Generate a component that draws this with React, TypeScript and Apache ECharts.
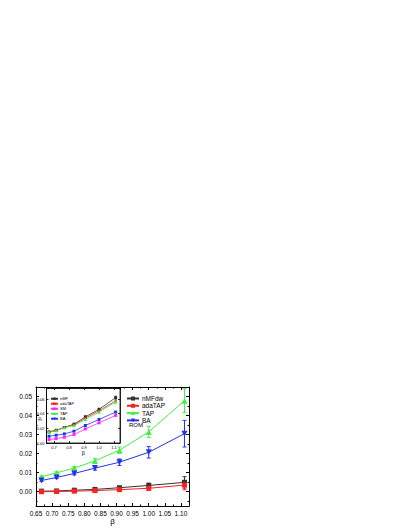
import React, { useEffect, useRef } from "react";
import * as echarts from "echarts";

const betaVals = [0.667, 0.714, 0.769, 0.833, 0.909, 1.0, 1.111];

// main panel
const nmfdw = [0.0003, 0.0004, 0.0008, 0.0012, 0.0021, 0.0033, 0.0049];
const nmfdwErr = [0.0002, 0.0002, 0.0003, 0.0004, 0.0006, 0.0012, 0.003];
const adatap = [0.0, 0.0001, 0.0003, 0.0006, 0.0011, 0.0018, 0.0035];
const adatapErr = [0.0002, 0.0002, 0.0003, 0.0004, 0.0006, 0.001, 0.0025];
const tap = [0.0078, 0.0099, 0.0124, 0.0162, 0.0218, 0.0314, 0.0478];
const tapErr = [0.0005, 0.0006, 0.0008, 0.0012, 0.0017, 0.003, 0.0063];
const ba = [0.0059, 0.0075, 0.0096, 0.0124, 0.0155, 0.0207, 0.0305];
const baErr = [0.0005, 0.0006, 0.0008, 0.0011, 0.0017, 0.003, 0.007];

// inset panel
const insetNmf = [0.0151, 0.0174, 0.0212, 0.0257, 0.0357, 0.0459, 0.0618];
const insetAda = [0.0151, 0.0172, 0.0210, 0.0248, 0.0339, 0.044, 0.0573];
const insetSm = [0.0047, 0.006, 0.0078, 0.0115, 0.0192, 0.0275, 0.0376];
const insetTap = [0.0151, 0.0172, 0.0210, 0.0239, 0.0321, 0.0422, 0.0559];
const insetBa = [0.0092, 0.0106, 0.0124, 0.0161, 0.0239, 0.0321, 0.0422];
const insetErr = [0.0004, 0.0005, 0.0006, 0.0008, 0.001, 0.0013, 0.002];

const mainLegend = ["nMFdw", "adaTAP", "TAP", "BA"];
const insetLegend = ["nMF", "adaTAP", "SM", "TAP", "BA"];

const C_BLACK = "#333333";
const C_RED = "#ff2020";
const C_GREEN = "#44ee44";
const C_BLUE = "#2233ee";
const C_MAG = "#ff22ff";

const pts = (ys: number[]) => betaVals.map((x, i) => [x, ys[i]]);
const errPts = (ys: number[], es: number[]) =>
  betaVals.map((x, i) => [x, ys[i] - es[i], ys[i] + es[i]]);

function errSeries(ys: number[], es: number[], color: string, axis: number, cap: number) {
  return {
    type: "custom",
    xAxisIndex: axis,
    yAxisIndex: axis,
    data: errPts(ys, es),
    encode: { x: 0, y: [1, 2] },
    z: 3,
    silent: true,
    renderItem: (params: any, api: any) => {
      const x = api.value(0);
      const p1 = api.coord([x, api.value(1)]);
      const p2 = api.coord([x, api.value(2)]);
      const st = { stroke: color, lineWidth: 1 };
      return {
        type: "group",
        children: [
          { type: "line", shape: { x1: p1[0], y1: p1[1], x2: p2[0], y2: p2[1] }, style: st },
          { type: "line", shape: { x1: p1[0] - cap, y1: p1[1], x2: p1[0] + cap, y2: p1[1] }, style: st },
          { type: "line", shape: { x1: p2[0] - cap, y1: p2[1], x2: p2[0] + cap, y2: p2[1] }, style: st },
        ],
      };
    },
  };
}

const fmt2 = (step: number) => (v: number) => {
  const k = v / step;
  return Math.abs(Math.round(k) - k) < 1e-6 ? v.toFixed(2) : "";
};
const fmt1 = (step: number) => (v: number) => {
  const k = v / step;
  return Math.abs(Math.round(k) - k) < 1e-6 ? v.toFixed(1) : "";
};

export default function App() {
  const ref = useRef<HTMLDivElement>(null);
  useEffect(() => {
    const chart = echarts.init(ref.current!, null, { renderer: "svg" });
    const font = "Liberation Sans, Arial, sans-serif";
    const mainTick = { show: true, inside: true, length: 3, lineStyle: { color: "#000", width: 1 } };
    const mainMinor = { show: true, splitNumber: 2, length: 1.5, lineStyle: { color: "#000", width: 1 } };
    const inTick = { show: true, inside: true, length: 2, lineStyle: { color: "#000", width: 0.8 } };
    const axisLine = { show: true, onZero: false, lineStyle: { color: "#000", width: 1 } };
    const inLine = { show: true, onZero: false, lineStyle: { color: "#000", width: 0.8 } };

    const lineS = (name: string, ys: number[], color: string, symbol: string, size: number, axis: number) => ({
      type: "line",
      name,
      xAxisIndex: axis,
      yAxisIndex: axis,
      data: pts(ys),
      symbol,
      symbolSize: size,
      showAllSymbol: true,
      lineStyle: { color, width: axis === 0 ? 1 : 0.8 },
      itemStyle: { color },
      z: 4,
    });

    chart.setOption({
      animation: false,
      backgroundColor: "#ffffff",
      textStyle: { fontFamily: font },
      grid: [
        { left: 36, right: 220, top: 387, bottom: 23, show: false },
        { left: 46.5, right: 289, top: 388, bottom: 86, show: true, backgroundColor: "#ffffff", borderColor: "#000", borderWidth: 0.8, z: 5 },
      ],
      xAxis: [
        {
          type: "value", gridIndex: 0, min: 0.65, max: 1.125, splitNumber: 9,
          axisLine, axisTick: mainTick, minorTick: mainMinor, splitLine: { show: false },
          axisLabel: { fontSize: 6.5, color: "#000", margin: 4, formatter: fmt2(0.05), showMaxLabel: false },
          name: "β", nameLocation: "middle", nameGap: 11, nameTextStyle: { fontSize: 8, color: "#000" },
        },
        {
          type: "value", gridIndex: 1, min: 0.65, max: 1.14, splitNumber: 5,
          axisLine: inLine, axisTick: inTick, splitLine: { show: false },
          axisLabel: { fontSize: 4, color: "#000", margin: 2, formatter: fmt1(0.1), showMaxLabel: false, showMinLabel: false },
          name: "β", nameLocation: "middle", nameGap: 7, nameTextStyle: { fontSize: 5.5, color: "#000" }, z: 6,
        },
        {
          type: "value", gridIndex: 0, position: "top", min: 0.65, max: 1.125, splitNumber: 9,
          axisLine, axisTick: mainTick, minorTick: mainMinor, splitLine: { show: false }, axisLabel: { show: false },
        },
        {
          type: "value", gridIndex: 1, position: "top", min: 0.65, max: 1.14, splitNumber: 5,
          axisLine: inLine, axisTick: inTick, splitLine: { show: false }, axisLabel: { show: false }, z: 6,
        },
      ],
      yAxis: [
        {
          type: "value", gridIndex: 0, min: -0.0075, max: 0.055, splitNumber: 5,
          axisLine, axisTick: mainTick, minorTick: mainMinor, splitLine: { show: false },
          axisLabel: { fontSize: 6.5, color: "#000", margin: 4, formatter: fmt2(0.01), showMaxLabel: false, showMinLabel: false },
        },
        {
          type: "value", gridIndex: 1, min: 0, max: 0.075, interval: 0.02,
          axisLine: inLine, axisTick: inTick, splitLine: { show: false },
          axisLabel: { fontSize: 4, color: "#000", margin: 2, formatter: fmt2(0.02), showMaxLabel: false }, z: 6,
        },
        {
          type: "value", gridIndex: 0, position: "right", min: -0.0075, max: 0.055, splitNumber: 5,
          axisLine, axisTick: mainTick, minorTick: mainMinor, splitLine: { show: false }, axisLabel: { show: false },
        },
        {
          type: "value", gridIndex: 1, position: "right", min: 0, max: 0.075, interval: 0.02,
          axisLine: inLine, axisTick: inTick, splitLine: { show: false }, axisLabel: { show: false }, z: 6,
        },
      ],
      legend: [
        {
          data: mainLegend, orient: "vertical", left: 126, top: 395, itemWidth: 12, itemHeight: 5, itemGap: 0.3,
          textStyle: { fontSize: 6.5, lineHeight: 6, color: "#000", padding: [0, 0, 0, -2] }, padding: 0, selectedMode: false,
        },
        {
          data: insetLegend, orient: "vertical", left: 50, top: 396.5, itemWidth: 7, itemHeight: 3, itemGap: 0.5,
          textStyle: { fontSize: 4, lineHeight: 4.5, color: "#000", padding: [0, 0, 0, -3] }, padding: 0, selectedMode: false, z: 8,
        },
      ],
      graphic: [
        { type: "text", left: 129, top: 422, style: { text: "ROM", fontSize: 6, fontFamily: font, fill: "#000" }, z: 10 },
        {
          type: "text", x: 38, y: 421, rotation: Math.PI / 2,
          style: { text: "δ²", fontSize: 4.5, fontFamily: font, fill: "#000" }, z: 10,
        },
      ],
      series: [
        errSeries(nmfdw, nmfdwErr, C_BLACK, 0, 2),
        errSeries(adatap, adatapErr, C_RED, 0, 2),
        errSeries(tap, tapErr, C_GREEN, 0, 2),
        errSeries(ba, baErr, C_BLUE, 0, 2),
        lineS("nMFdw", nmfdw, C_BLACK, "rect", 5, 0),
        lineS("adaTAP", adatap, C_RED, "rect", 5, 0),
        lineS("TAP", tap, C_GREEN, "triangle", 6, 0),
        lineS("BA", ba, C_BLUE, "path://M0,0 L10,0 L5,9 Z", 6, 0),
        { ...errSeries(insetNmf, insetErr, C_BLACK, 1, 1), z: 7 },
        { ...lineS("nMF", insetNmf, C_BLACK, "rect", 3, 1), z: 7 },
        { ...lineS("adaTAP", insetAda, C_RED, "circle", 2.5, 1), z: 7 },
        { ...lineS("SM", insetSm, C_MAG, "rect", 3, 1), z: 7 },
        { ...lineS("TAP", insetTap, C_GREEN, "triangle", 3.5, 1), z: 7 },
        { ...lineS("BA", insetBa, C_BLUE, "rect", 3, 1), z: 7 },
      ],
    });
    return () => chart.dispose();
  }, []);
  return (
    <div
      ref={ref}
      style={{ position: "fixed", left: 0, top: 0, width: 409, height: 529, background: "#fff" }}
    />
  );
}
